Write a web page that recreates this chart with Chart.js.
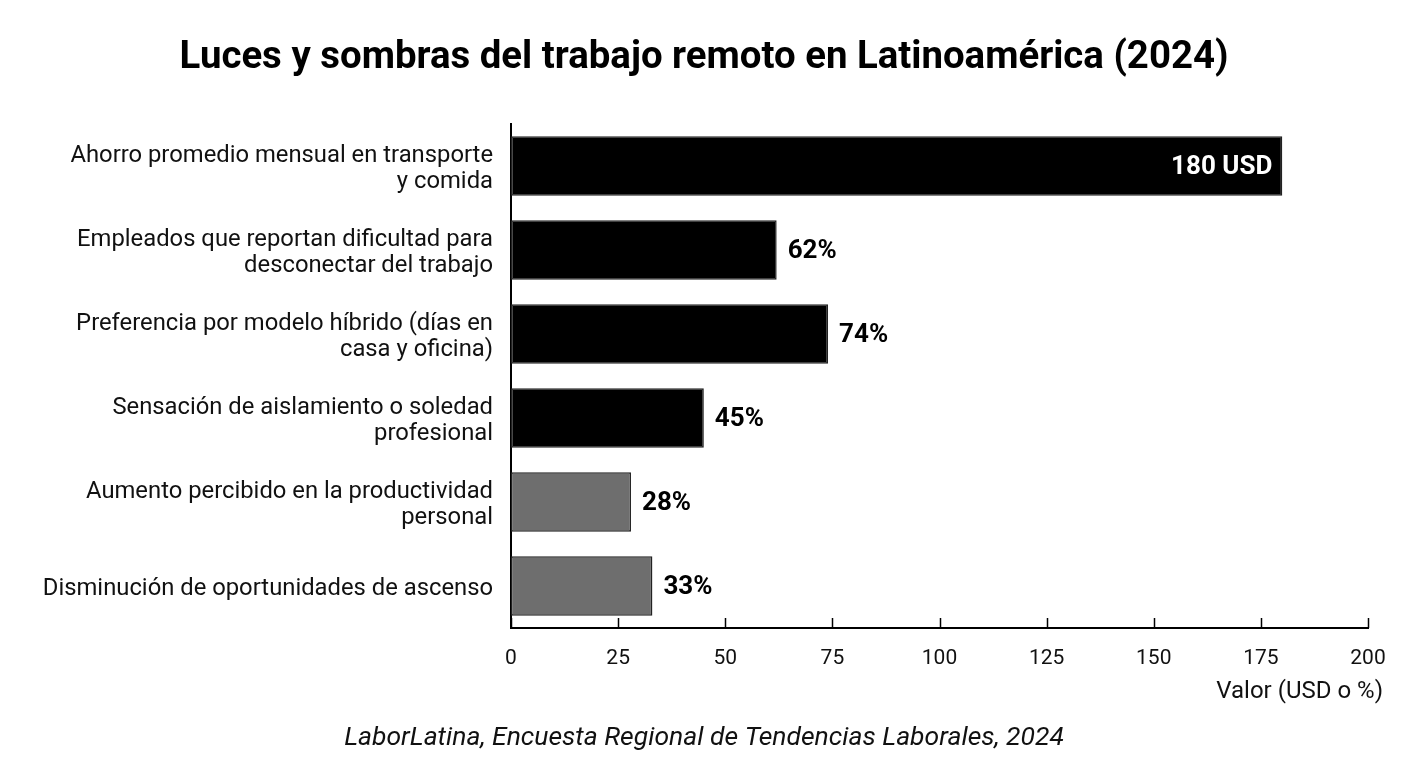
<!DOCTYPE html>
<html>
<head>
<meta charset="utf-8">
<script src="https://cdn.jsdelivr.net/npm/chart.js@4.4.1/dist/chart.umd.min.js"></script>
<style>
  html, body { margin: 0; padding: 0; background: #fff; }
  #wrap { width: 1408px; height: 768px; }
</style>
</head>
<body>
<div id="wrap"><canvas id="myChart" width="1408" height="768"></canvas></div>
<script>
const categories = [
    ["Ahorro promedio mensual en transporte", "y comida"],
    ["Empleados que reportan dificultad para", "desconectar del trabajo"],
    ["Preferencia por modelo híbrido (días en", "casa y oficina)"],
    ["Sensación de aislamiento o soledad", "profesional"],
    ["Aumento percibido en la productividad", "personal"],
    "Disminución de oportunidades de ascenso",
];
const values = [180, 62, 74, 45, 28, 33];
const units = ["USD", "%", "%", "%", "%", "%"];
const xTicks = [0, 25, 50, 75, 100, 125, 150, 175, 200];

const barColors = ["#000000", "#000000", "#000000", "#000000", "#6e6e6e", "#6e6e6e"];
const FONT = "Roboto, 'Noto Sans', sans-serif";

// value labels: inside (white) for the USD bar, outside for the percentages
const valueLabels = {
    id: "valueLabels",
    afterDatasetsDraw(chart) {
        const ctx = chart.ctx;
        const meta = chart.getDatasetMeta(0);
        ctx.save();
        ctx.font = "bold 26px " + FONT;
        ctx.textBaseline = "middle";
        meta.data.forEach((bar, i) => {
            const txt = units[i] === "USD" ? values[i] + " USD" : values[i] + "%";
            if (units[i] === "USD") {
                ctx.fillStyle = "#ffffff";
                ctx.textAlign = "right";
                ctx.fillText(txt, bar.x - 10, bar.y + 2);
            } else {
                ctx.fillStyle = "#000000";
                ctx.textAlign = "left";
                ctx.fillText(txt, bar.x + 11, bar.y + 2);
            }
        });
        ctx.restore();
    },
};

// tick marks pointing up into the plot, plus the x axis title
const xAxisExtras = {
    id: "xAxisExtras",
    afterDraw(chart) {
        const ctx = chart.ctx;
        const x = chart.scales.x;
        const bottom = chart.chartArea.bottom;
        ctx.save();
        ctx.strokeStyle = "#000";
        ctx.lineWidth = 1.5;
        xTicks.forEach(t => {
            const px = Math.round(x.getPixelForValue(t)) + 0.5;
            ctx.beginPath();
            ctx.moveTo(px, bottom);
            ctx.lineTo(px, bottom - 10);
            ctx.stroke();
        });
        ctx.fillStyle = "#111";
        ctx.font = "24px " + FONT;
        ctx.textAlign = "right";
        ctx.textBaseline = "middle";
        ctx.fillText("Valor (USD o %)", chart.chartArea.right + 15, 692);
        ctx.restore();
    },
};

const config = {
    type: "bar",
    data: {
        labels: categories,
        datasets: [
            {
                data: values,
                backgroundColor: barColors,
                borderColor: "#222",
                borderWidth: 1.5,
                borderSkipped: false,
                barPercentage: 0.71,
                categoryPercentage: 1,
            },
        ],
    },
    options: {
        indexAxis: "y",
        responsive: false,
        animation: false,
        layout: { padding: 0 },
        plugins: {
            legend: { display: false },
            tooltip: { enabled: false },
            title: {
                display: true,
                text: "Luces y sombras del trabajo remoto en Latinoamérica (2024)",
                color: "#000",
                font: { family: FONT, size: 38.4, weight: "bold", lineHeight: 1.2 },
                padding: { top: 35, bottom: 42.9 },
            },
            subtitle: {
                display: true,
                position: "bottom",
                text: "LaborLatina, Encuesta Regional de Tendencias Laborales, 2024",
                color: "#111",
                font: { family: FONT, size: 26.5, style: "italic", lineHeight: 1.2 },
                padding: { top: 34.2, bottom: 14 },
            },
        },
        scales: {
            x: {
                min: 0,
                max: 200,
                grid: { display: false, drawTicks: false },
                border: { display: true, color: "#000", width: 2 },
                ticks: {
                    stepSize: 25,
                    color: "#111",
                    padding: 18,
                    font: { family: FONT, size: 21 },
                },
                afterFit(scale) { scale.height = 60; },
            },
            y: {
                grid: { display: false, drawTicks: false },
                border: { display: true, color: "#000", width: 2 },
                ticks: {
                    color: "#111",
                    padding: 18,
                    labelOffset: 3,
                    font: { family: FONT, size: 23.8, lineHeight: 1.1 },
                },
                afterFit(scale) { scale.width = 511; },
            },
            // empty right-hand spacer so the title stays centred on the page
            yRight: {
                type: "category",
                position: "right",
                grid: { display: false, drawTicks: false },
                border: { display: false },
                ticks: { display: false },
                afterFit(scale) { scale.width = 40; },
            },
        },
    },
    plugins: [valueLabels, xAxisExtras],
};

new Chart(document.getElementById("myChart"), config);
</script>
</body>
</html>
